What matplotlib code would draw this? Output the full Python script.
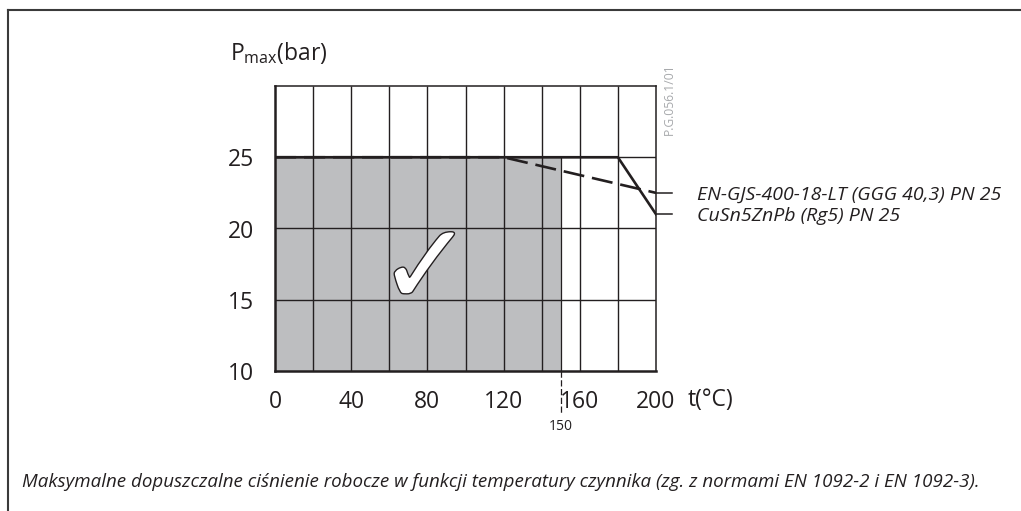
import matplotlib
matplotlib.use('Agg')
import matplotlib.pyplot as plt
import matplotlib.patheffects as pe
from matplotlib.lines import Line2D

plt.rcParams['font.family'] = ['Open Sans', 'DejaVu Sans']
plt.rcParams['mathtext.fontset'] = 'custom'
plt.rcParams['mathtext.rm'] = 'Open Sans'

# dane
t_cusn = [0, 180, 200]
p_cusn = [25, 25, 21]
t_en = [0, 120, 200]
p_en = [25, 25, 22.5]
t_limit = 150
x_ticks = [0, 40, 80, 120, 160, 200]
x_grid = [20, 40, 60, 80, 100, 120, 140, 160, 180]
y_ticks = [10, 15, 20, 25]
y_grid = [15, 20, 25]
label_en = 'EN-GJS-400-18-LT (GGG 40,3) PN 25'
label_cusn = 'CuSn5ZnPb (Rg5) PN 25'
caption = ('Maksymalne dopuszczalne ciśnienie robocze w funkcji temperatury czynnika '
           '(zg. z normami EN 1092-2 i EN 1092-3).')

fig = plt.figure(figsize=(10.21, 5.11), dpi=100)
ax = fig.add_axes([275/1021, 140/511, 381/1021, 285/511])
ax.set_xlim(0, 200)
ax.set_ylim(10, 30)

dark = '#231f20'
# obszar dopuszczalny
ax.fill_between([0, t_limit], 10, 25, color='#bdbec0', lw=0, zorder=0)
ax.vlines(x_grid, 10, 30, color=dark, lw=1.0, zorder=1)
ax.hlines(y_grid, 0, 200, color=dark, lw=1.0, zorder=1)
ax.vlines(t_limit, 10, 25, color=dark, lw=0.9, zorder=1)
ax.plot([t_limit, t_limit], [10, 7.0], color=dark, lw=0.9, ls=(0, (5, 2)),
        clip_on=False, zorder=1)

ax.plot(t_cusn, p_cusn, color=dark, lw=1.9, zorder=3, solid_joinstyle='miter')
ax.plot(t_en, p_en, color=dark, lw=1.9, dashes=(8, 3), zorder=3)
# linie odniesienia do opisow
ax.plot([200, 208.5], [p_en[-1], p_en[-1]], color=dark, lw=1.1, clip_on=False)
ax.plot([200, 208.5], [p_cusn[-1], p_cusn[-1]], color=dark, lw=1.1, clip_on=False)

for s in ['left', 'bottom']:
    ax.spines[s].set_linewidth(1.8)
    ax.spines[s].set_color(dark)
for s in ['top', 'right']:
    ax.spines[s].set_linewidth(1.1)
    ax.spines[s].set_color(dark)

ax.set_xticks(x_ticks)
ax.set_yticks(y_ticks)
ax.tick_params(length=0, labelsize=16.5, colors=dark)
ax.tick_params(axis='y', pad=15)
ax.tick_params(axis='x', pad=14)

ax.text(t_limit, 6.6, str(t_limit), ha='center', va='top', fontsize=10, color=dark)
ax.text(79, 16.9, '✓', family='DejaVu Sans', fontsize=82, color='white',
        ha='center', va='center', zorder=4,
        path_effects=[pe.withStroke(linewidth=2, foreground=dark)])

fig.text(688/1021, 1 - 400/511, 't(°C)', fontsize=16.5, color=dark, va='center')
fig.text(230/1021, 1 - 53/511, r'P$_{\mathrm{max}}$(bar)', fontsize=16.5, color=dark,
         va='center')
fig.text(697/1021, 1 - 195/511, label_en, fontsize=14, style='italic', color=dark,
         va='center')
fig.text(697/1021, 1 - 216/511, label_cusn, fontsize=14, style='italic', color=dark,
         va='center')
fig.text(669/1021, 1 - 99/511, 'P.G.056.1/01', fontsize=8.7, color='#a7a9ac',
         rotation=90, ha='center', va='center')
fig.text(22/1021, 1 - 482/511, caption, fontsize=13.5, style='italic', color=dark,
         va='center')

# ramka
fig.add_artist(Line2D([7.5/1021, 1], [1 - 10.5/511, 1 - 10.5/511], color='#3a3a3a', lw=1.5))
fig.add_artist(Line2D([7.5/1021, 7.5/1021], [0, 1 - 10.5/511], color='#3a3a3a', lw=1.5))

fig.savefig('out.png', dpi=100)
